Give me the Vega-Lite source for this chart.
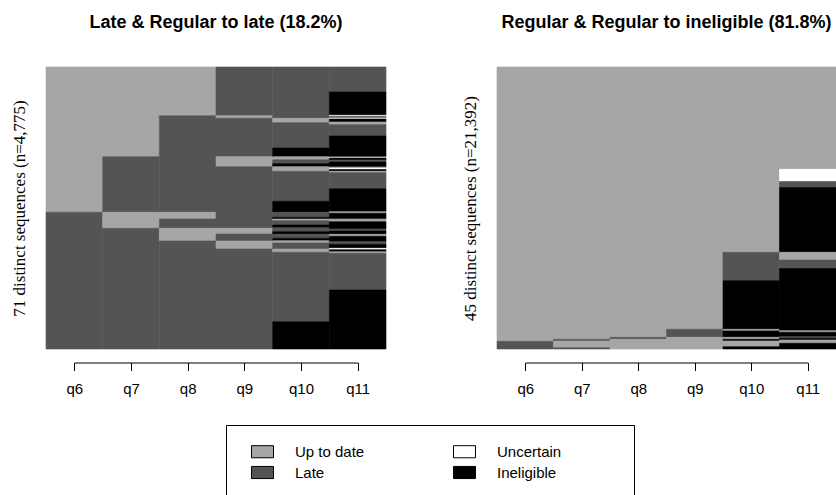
{
  "$schema": "https://vega.github.io/schema/vega-lite/v6.json",
  "background": "white",
  "padding": {"left": 10, "top": 13, "right": 0, "bottom": 0},
  "spacing": 74,
  "resolve": {"scale": {"color": "shared"}},
  "config": {
    "view": {"stroke": null},
    "font": "Liberation Sans",
    "title": {"font": "Liberation Sans", "fontSize": 18, "fontWeight": "bold", "color": "black", "anchor": "middle", "frame": "group", "offset": 35},
    "axisY": {"domain": false, "ticks": false, "labels": false, "grid": false, "titleFont": "Liberation Serif", "titleFontSize": 17, "titleFontWeight": "normal", "titleColor": "black", "titlePadding": 18},
    "axisX": {"offset": 13.5, "domain": true, "domainColor": "black", "domainWidth": 1, "ticks": true, "tickSize": 8, "tickColor": "black", "tickWidth": 1, "labelFont": "Liberation Sans", "labelFontSize": 15, "labelColor": "black", "labelPadding": 11, "labelAngle": 0, "grid": false, "title": null},
    "legend": {
      "columns": 2, "columnPadding": 78, "rowPadding": 1,
      "symbolType": "M-1,-0.55H1V0.55H-1Z", "symbolSize": 484, "symbolStrokeColor": "black", "symbolStrokeWidth": 1, "symbolOffset": 10,
      "labelFont": "Liberation Sans", "labelFontSize": 15, "labelColor": "black", "labelOffset": 21,
      "strokeColor": "black", "fillColor": "white", "padding": 15,
      "titleOrient": "right", "titlePadding": 58, "titleFontSize": 15
    }
  },
  "hconcat": [
    {
      "title": {"text": "Late & Regular to late (18.2%)"},
      "width": 340,
      "height": 282,
      "data": {"values": [
        {"time": "q6", "state": "Up to date", "top": 100, "bottom": 48.48},
        {"time": "q6", "state": "Late", "top": 48.48, "bottom": 0},
        {"time": "q7", "state": "Up to date", "top": 100, "bottom": 68.19},
        {"time": "q7", "state": "Late", "top": 68.19, "bottom": 48.48},
        {"time": "q7", "state": "Up to date", "top": 48.48, "bottom": 42.80},
        {"time": "q7", "state": "Late", "top": 42.80, "bottom": 0},
        {"time": "q8", "state": "Up to date", "top": 100, "bottom": 82.73},
        {"time": "q8", "state": "Late", "top": 82.73, "bottom": 48.48},
        {"time": "q8", "state": "Up to date", "top": 48.48, "bottom": 46.10},
        {"time": "q8", "state": "Late", "top": 46.10, "bottom": 42.80},
        {"time": "q8", "state": "Up to date", "top": 42.80, "bottom": 38.30},
        {"time": "q8", "state": "Late", "top": 38.30, "bottom": 0},
        {"time": "q9", "state": "Late", "top": 100, "bottom": 82.73},
        {"time": "q9", "state": "Up to date", "top": 82.73, "bottom": 81.81},
        {"time": "q9", "state": "Late", "top": 81.81, "bottom": 68.19},
        {"time": "q9", "state": "Up to date", "top": 68.19, "bottom": 64.65},
        {"time": "q9", "state": "Late", "top": 64.65, "bottom": 42.80},
        {"time": "q9", "state": "Up to date", "top": 42.80, "bottom": 40.78},
        {"time": "q9", "state": "Late", "top": 40.78, "bottom": 38.30},
        {"time": "q9", "state": "Up to date", "top": 38.30, "bottom": 35.46},
        {"time": "q9", "state": "Late", "top": 35.46, "bottom": 0},
        {"time": "q10", "state": "Late", "top": 100, "bottom": 81.81},
        {"time": "q10", "state": "Up to date", "top": 81.81, "bottom": 80.25},
        {"time": "q10", "state": "Late", "top": 80.25, "bottom": 71.28},
        {"time": "q10", "state": "Ineligible", "top": 71.28, "bottom": 68.19},
        {"time": "q10", "state": "Up to date", "top": 68.19, "bottom": 67.13},
        {"time": "q10", "state": "Late", "top": 67.13, "bottom": 65.71},
        {"time": "q10", "state": "Ineligible", "top": 65.71, "bottom": 64.65},
        {"time": "q10", "state": "Up to date", "top": 64.65, "bottom": 63.01},
        {"time": "q10", "state": "Late", "top": 63.01, "bottom": 52.38},
        {"time": "q10", "state": "Ineligible", "top": 52.38, "bottom": 48.48},
        {"time": "q10", "state": "Late", "top": 48.48, "bottom": 46.70},
        {"time": "q10", "state": "Ineligible", "top": 46.70, "bottom": 46.10},
        {"time": "q10", "state": "Up to date", "top": 46.10, "bottom": 45.50},
        {"time": "q10", "state": "Late", "top": 45.50, "bottom": 43.97},
        {"time": "q10", "state": "Ineligible", "top": 43.97, "bottom": 43.01},
        {"time": "q10", "state": "Late", "top": 43.01, "bottom": 41.60},
        {"time": "q10", "state": "Ineligible", "top": 41.60, "bottom": 40.67},
        {"time": "q10", "state": "Late", "top": 40.67, "bottom": 39.26},
        {"time": "q10", "state": "Ineligible", "top": 39.26, "bottom": 38.40},
        {"time": "q10", "state": "Up to date", "top": 38.40, "bottom": 37.59},
        {"time": "q10", "state": "Late", "top": 37.59, "bottom": 35.46},
        {"time": "q10", "state": "Up to date", "top": 35.46, "bottom": 34.29},
        {"time": "q10", "state": "Late", "top": 34.29, "bottom": 9.68},
        {"time": "q10", "state": "Ineligible", "top": 9.68, "bottom": 0},
        {"time": "q11", "state": "Late", "top": 100, "bottom": 91.13},
        {"time": "q11", "state": "Ineligible", "top": 91.13, "bottom": 82.87},
        {"time": "q11", "state": "Uncertain", "top": 82.87, "bottom": 82.52},
        {"time": "q11", "state": "Late", "top": 82.52, "bottom": 81.91},
        {"time": "q11", "state": "Uncertain", "top": 81.91, "bottom": 81.56},
        {"time": "q11", "state": "Ineligible", "top": 81.56, "bottom": 80.50},
        {"time": "q11", "state": "Up to date", "top": 80.50, "bottom": 79.54},
        {"time": "q11", "state": "Late", "top": 79.54, "bottom": 75.53},
        {"time": "q11", "state": "Ineligible", "top": 75.53, "bottom": 68.09},
        {"time": "q11", "state": "Uncertain", "top": 68.09, "bottom": 67.73},
        {"time": "q11", "state": "Ineligible", "top": 67.73, "bottom": 67.02},
        {"time": "q11", "state": "Late", "top": 67.02, "bottom": 66.31},
        {"time": "q11", "state": "Ineligible", "top": 66.31, "bottom": 64.54},
        {"time": "q11", "state": "Up to date", "top": 64.54, "bottom": 64.08},
        {"time": "q11", "state": "Uncertain", "top": 64.08, "bottom": 63.65},
        {"time": "q11", "state": "Ineligible", "top": 63.65, "bottom": 63.01},
        {"time": "q11", "state": "Up to date", "top": 63.01, "bottom": 62.52},
        {"time": "q11", "state": "Late", "top": 62.52, "bottom": 56.84},
        {"time": "q11", "state": "Ineligible", "top": 56.84, "bottom": 48.69},
        {"time": "q11", "state": "Up to date", "top": 48.69, "bottom": 48.12},
        {"time": "q11", "state": "Ineligible", "top": 48.12, "bottom": 46.10},
        {"time": "q11", "state": "Up to date", "top": 46.10, "bottom": 45.14},
        {"time": "q11", "state": "Ineligible", "top": 45.14, "bottom": 42.55},
        {"time": "q11", "state": "Late", "top": 42.55, "bottom": 41.84},
        {"time": "q11", "state": "Ineligible", "top": 41.84, "bottom": 40.67},
        {"time": "q11", "state": "Up to date", "top": 40.67, "bottom": 39.96},
        {"time": "q11", "state": "Ineligible", "top": 39.96, "bottom": 38.05},
        {"time": "q11", "state": "Late", "top": 38.05, "bottom": 37.13},
        {"time": "q11", "state": "Ineligible", "top": 37.13, "bottom": 35.71},
        {"time": "q11", "state": "Uncertain", "top": 35.71, "bottom": 35.21},
        {"time": "q11", "state": "Ineligible", "top": 35.21, "bottom": 34.50},
        {"time": "q11", "state": "Up to date", "top": 34.50, "bottom": 33.94},
        {"time": "q11", "state": "Late", "top": 33.94, "bottom": 20.92},
        {"time": "q11", "state": "Ineligible", "top": 20.92, "bottom": 0}
      ]},
      "layer": [
        {
          "mark": {"type": "rect", "strokeWidth": 0.6, "stroke": {"expr": "scale('color', datum.state)"}},
          "encoding": {
            "x": {"field": "time", "type": "ordinal", "sort": ["q6", "q7", "q8", "q9", "q10", "q11"], "scale": {"paddingInner": 0, "paddingOuter": 0}, "axis": null},
            "y": {"field": "top", "type": "quantitative", "scale": {"domain": [0, 100], "nice": false, "zero": false}, "axis": {"title": "71 distinct sequences (n=4,775)"}},
            "y2": {"field": "bottom"},
            "color": {"field": "state", "type": "nominal",
              "scale": {"domain": ["Up to date", "Late", "Uncertain", "Ineligible"], "range": ["#a6a6a6", "#545454", "#ffffff", "#000000"]},
              "legend": {"orient": "none", "legendX": 180, "legendY": 358, "title": " ",
                "encode": {"symbols": {"update": {"stroke": {"value": "black"}, "strokeWidth": {"value": 1}}}}}}
          }
        },
        {
          "mark": {"type": "point", "opacity": 0},
          "encoding": {
            "x": {"field": "time", "type": "ordinal", "sort": ["q6", "q7", "q8", "q9", "q10", "q11"], "scale": {"type": "point", "range": [28.33, 311.67], "padding": 0}, "axis": {"orient": "bottom"}}
          }
        }
      ],
      "resolve": {"scale": {"x": "independent"}, "axis": {"x": "independent"}}
    },
    {
      "title": {"text": "Regular & Regular to ineligible (81.8%)"},
      "width": 339,
      "height": 282,
      "data": {"values": [
        {"time": "q6", "state": "Up to date", "top": 100, "bottom": 2.73},
        {"time": "q6", "state": "Late", "top": 2.73, "bottom": 0},
        {"time": "q7", "state": "Up to date", "top": 100, "bottom": 3.44},
        {"time": "q7", "state": "Late", "top": 3.44, "bottom": 2.84},
        {"time": "q7", "state": "Up to date", "top": 2.84, "bottom": 0.46},
        {"time": "q7", "state": "Late", "top": 0.46, "bottom": 0},
        {"time": "q8", "state": "Up to date", "top": 100, "bottom": 4.15},
        {"time": "q8", "state": "Late", "top": 4.15, "bottom": 3.44},
        {"time": "q8", "state": "Up to date", "top": 3.44, "bottom": 0},
        {"time": "q9", "state": "Up to date", "top": 100, "bottom": 6.99},
        {"time": "q9", "state": "Late", "top": 6.99, "bottom": 4.15},
        {"time": "q9", "state": "Up to date", "top": 4.15, "bottom": 0},
        {"time": "q10", "state": "Up to date", "top": 100, "bottom": 34.29},
        {"time": "q10", "state": "Late", "top": 34.29, "bottom": 24.22},
        {"time": "q10", "state": "Ineligible", "top": 24.22, "bottom": 6.99},
        {"time": "q10", "state": "Up to date", "top": 6.99, "bottom": 6.38},
        {"time": "q10", "state": "Ineligible", "top": 6.38, "bottom": 4.15},
        {"time": "q10", "state": "Up to date", "top": 4.15, "bottom": 3.44},
        {"time": "q10", "state": "Ineligible", "top": 3.44, "bottom": 2.84},
        {"time": "q10", "state": "Up to date", "top": 2.84, "bottom": 0.82},
        {"time": "q10", "state": "Ineligible", "top": 0.82, "bottom": 0},
        {"time": "q11", "state": "Up to date", "top": 100, "bottom": 63.72},
        {"time": "q11", "state": "Uncertain", "top": 63.72, "bottom": 59.40},
        {"time": "q11", "state": "Late", "top": 59.40, "bottom": 57.27},
        {"time": "q11", "state": "Ineligible", "top": 57.27, "bottom": 34.29},
        {"time": "q11", "state": "Up to date", "top": 34.29, "bottom": 31.56},
        {"time": "q11", "state": "Late", "top": 31.56, "bottom": 28.55},
        {"time": "q11", "state": "Ineligible", "top": 28.55, "bottom": 6.49},
        {"time": "q11", "state": "Up to date", "top": 6.49, "bottom": 5.92},
        {"time": "q11", "state": "Ineligible", "top": 5.92, "bottom": 4.36},
        {"time": "q11", "state": "Late", "top": 4.36, "bottom": 3.79},
        {"time": "q11", "state": "Ineligible", "top": 3.79, "bottom": 3.19},
        {"time": "q11", "state": "Up to date", "top": 3.19, "bottom": 2.02},
        {"time": "q11", "state": "Ineligible", "top": 2.02, "bottom": 0}
      ]},
      "layer": [
        {
          "mark": {"type": "rect", "strokeWidth": 0.6, "stroke": {"expr": "scale('color', datum.state)"}},
          "encoding": {
            "x": {"field": "time", "type": "ordinal", "sort": ["q6", "q7", "q8", "q9", "q10", "q11"], "scale": {"paddingInner": 0, "paddingOuter": 0}, "axis": null},
            "y": {"field": "top", "type": "quantitative", "scale": {"domain": [0, 100], "nice": false, "zero": false}, "axis": {"title": "45 distinct sequences (n=21,392)"}},
            "y2": {"field": "bottom"},
            "color": {"field": "state", "type": "nominal",
              "scale": {"domain": ["Up to date", "Late", "Uncertain", "Ineligible"], "range": ["#a6a6a6", "#545454", "#ffffff", "#000000"]},
              "legend": {"orient": "none", "legendX": 180, "legendY": 358, "title": " ",
                "encode": {"symbols": {"update": {"stroke": {"value": "black"}, "strokeWidth": {"value": 1}}}}}}
          }
        },
        {
          "mark": {"type": "point", "opacity": 0},
          "encoding": {
            "x": {"field": "time", "type": "ordinal", "sort": ["q6", "q7", "q8", "q9", "q10", "q11"], "scale": {"type": "point", "range": [28.25, 310.75], "padding": 0}, "axis": {"orient": "bottom"}}
          }
        }
      ],
      "resolve": {"scale": {"x": "independent"}, "axis": {"x": "independent"}}
    }
  ]
}
